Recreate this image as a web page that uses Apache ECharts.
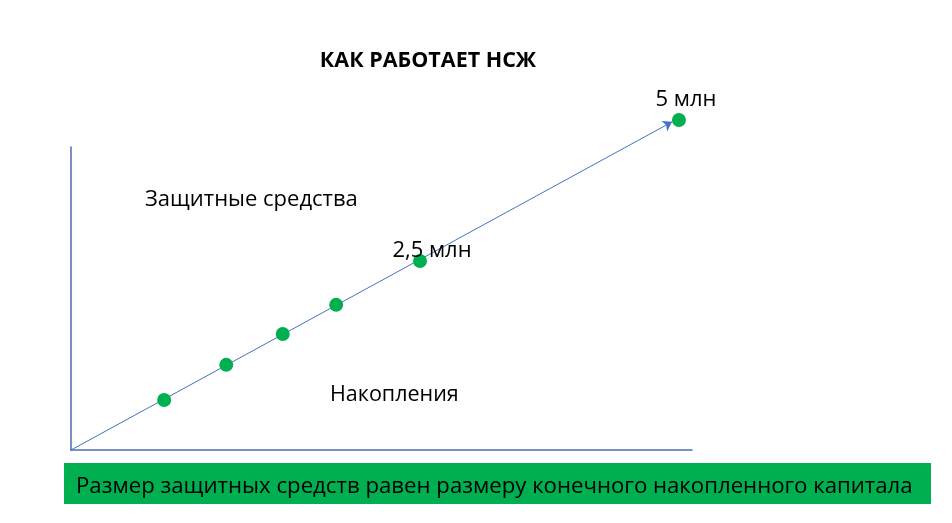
<!DOCTYPE html>
<html>
<head>
<meta charset="utf-8">
<script src="https://cdn.jsdelivr.net/npm/echarts@6/dist/echarts.min.js"></script>
<style>
  html, body { margin: 0; padding: 0; background: #fff; }
  #chart { width: 952px; height: 523px; }
</style>
</head>
<body>
<div id="chart"></div>
<script>
// точки на линии роста (условные единицы, 0..100 по каждой оси)
var pointsX = [15.0, 25.0, 34.1, 42.7, 56.2, 97.9];
var pointsY = [16.5, 28.1, 38.3, 47.9, 62.4, 108.9];
var pointLabels = ['', '', '', '', '2,5 млн', '5 млн'];
// стрелка от начала координат
var arrowStart = [0, 0];
var arrowEnd = [96.8, 108.3];

var titleText = 'КАК РАБОТАЕТ НСЖ';
var areaTop = 'Защитные средства';
var areaBottom = 'Накопления';
var footerText = 'Размер защитных средств равен размеру конечного накопленного капитала';

var FONT = 'Open Sans';
var AXIS_COLOR = '#4A6DB0';
var DOT_COLOR = '#00B050';

var scatterData = pointsX.map(function (x, i) {
    return { value: [x, pointsY[i]], name: pointLabels[i] };
});

var option = {
    backgroundColor: '#fff',
    animation: false,
    title: {
        text: titleText,
        left: 423,
        top: 45,
        textAlign: 'center',
        textStyle: {
            color: '#000',
            fontFamily: FONT,
            fontWeight: 'bold',
            fontSize: 21.5
        }
    },
    grid: {
        left: 71,
        right: 260,
        top: 147,
        bottom: 73,
        containLabel: false
    },
    xAxis: {
        type: 'value',
        min: 0,
        max: 100,
        axisLine: { show: true, onZero: false, lineStyle: { color: AXIS_COLOR, width: 1.5 } },
        axisTick: { show: false },
        axisLabel: { show: false },
        splitLine: { show: false }
    },
    yAxis: {
        type: 'value',
        min: 0,
        max: 100,
        axisLine: { show: true, onZero: false, lineStyle: { color: AXIS_COLOR, width: 1.5 } },
        axisTick: { show: false },
        axisLabel: { show: false },
        splitLine: { show: false }
    },
    series: [
        {
            type: 'lines',
            coordinateSystem: 'cartesian2d',
            clip: false,
            symbol: ['none', 'arrow'],
            symbolSize: 9,
            lineStyle: { color: '#4472C4', width: 1, opacity: 1 },
            data: [{ coords: [arrowStart, arrowEnd] }],
            z: 2
        },
        {
            type: 'scatter',
            clip: false,
            symbol: 'circle',
            symbolSize: 14,
            itemStyle: { color: DOT_COLOR, opacity: 1 },
            label: {
                show: true,
                position: 'top',
                distance: 2,
                formatter: function (p) { return p.name; },
                color: '#000',
                fontFamily: FONT,
                fontSize: 22
            },
            labelLayout: function (params) {
                if (params.dataIndex === 4) return { dy: 10, dx: 12 };
                if (params.dataIndex === 5) return { dx: 7 };
                return {};
            },
            data: scatterData,
            z: 3
        }
    ],
    graphic: [
        {
            type: 'text',
            left: 145,
            top: 189,
            style: { text: areaTop, fill: '#000', font: '22px "' + FONT + '"' }
        },
        {
            type: 'text',
            left: 330,
            top: 384,
            style: { text: areaBottom, fill: '#000', font: '21.5px "' + FONT + '"' }
        },
        {
            type: 'rect',
            shape: { x: 64, y: 463, width: 867, height: 41 },
            style: { fill: DOT_COLOR }
        },
        {
            type: 'text',
            left: 76,
            top: 476,
            z: 10,
            style: { text: footerText, fill: '#000', font: '22.2px "' + FONT + '"' }
        }
    ]
};

var chart = echarts.init(document.getElementById('chart'));
chart.setOption(option);
</script>
</body>
</html>
